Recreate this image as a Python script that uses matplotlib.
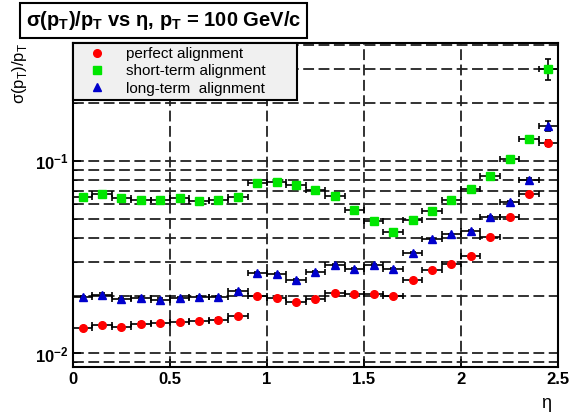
import matplotlib
matplotlib.use("Agg")
import matplotlib.pyplot as plt
from matplotlib.lines import Line2D
from matplotlib.ticker import LogLocator, NullFormatter, FixedLocator
import numpy as np

plt.rcParams['font.family'] = ['Liberation Sans', 'DejaVu Sans']

# eta bin centres (bin width 0.1)
eta = [0.05, 0.15, 0.25, 0.35, 0.45, 0.55, 0.65, 0.75, 0.85, 0.95,
       1.05, 1.15, 1.25, 1.35, 1.45, 1.55, 1.65, 1.75, 1.85, 1.95,
       2.05, 2.15, 2.25, 2.35, 2.45]
eta_err = [0.05] * len(eta)

perfect = [0.0136, 0.0140, 0.0137, 0.0143, 0.0144, 0.0146, 0.0147, 0.0150, 0.0156, 0.0200,
           0.0195, 0.0185, 0.0191, 0.0206, 0.0203, 0.0203, 0.0200, 0.0240, 0.0271, 0.0293,
           0.0320, 0.0403, 0.0509, 0.0670, 0.1236]
short_term = [0.0652, 0.0670, 0.0640, 0.0630, 0.0626, 0.0644, 0.0621, 0.0626, 0.0652, 0.0770,
              0.0780, 0.0748, 0.0706, 0.0660, 0.0556, 0.0489, 0.0428, 0.0493, 0.0551, 0.0626,
              0.0712, 0.0835, 0.1020, 0.1300, 0.3010]
long_term = [0.0196, 0.0202, 0.0191, 0.0193, 0.0190, 0.0193, 0.0196, 0.0196, 0.0210, 0.0262,
             0.0258, 0.0240, 0.0265, 0.0287, 0.0276, 0.0287, 0.0276, 0.0334, 0.0392, 0.0415,
             0.0433, 0.0513, 0.0609, 0.0796, 0.1520]

perfect_err = [0.0002] * 22 + [0.0008, 0.0012, 0.004]
short_err = [0.0006] * 22 + [0.0015, 0.003, 0.038]
long_err = [0.0003] * 22 + [0.001, 0.002, 0.009]

fig = plt.figure(figsize=(5.7, 4.12), dpi=100)
ax = fig.add_axes([0.128, 0.109, 0.851, 0.787])

series = [
    (perfect, perfect_err, 'o', '#ff0000'),
    (short_term, short_err, 's', '#00e600'),
    (long_term, long_err, '^', '#0000cc'),
]
for vals, errs, mk, col in series:
    ax.errorbar(eta, vals, xerr=eta_err, yerr=errs, fmt=mk, color=col,
                markersize=5.5, ecolor='black', elinewidth=1.2, capsize=2.2,
                capthick=1.2, zorder=3)

ax.set_yscale('log')
ax.set_xlim(0, 2.5)
ax.set_ylim(0.0085, 0.41)

ax.xaxis.set_major_locator(FixedLocator([0, 0.5, 1, 1.5, 2, 2.5]))
ax.set_xticklabels(['0', '0.5', '1', '1.5', '2', '2.5'])
ax.yaxis.set_major_locator(LogLocator(base=10))
ax.yaxis.set_minor_locator(LogLocator(base=10, subs=np.arange(2, 10)))
ax.yaxis.set_minor_formatter(NullFormatter())

ax.grid(True, which='both', axis='y', color='#222222', linestyle=(0, (6, 2.5)), linewidth=1.3)
ax.grid(True, which='major', axis='x', color='#222222', linestyle=(0, (6, 2.5)), linewidth=1.3)
ax.set_axisbelow(True)

ax.tick_params(axis='both', which='both', direction='in', labelsize=12)
ax.tick_params(axis='both', which='major', length=6, width=1.2)
ax.tick_params(axis='both', which='minor', length=3)
for lab in ax.get_xticklabels() + ax.get_yticklabels():
    lab.set_fontweight('bold')
for sp in ax.spines.values():
    sp.set_linewidth(1.5)

ax.set_xlabel('η', fontsize=13, loc='right')
ax.xaxis.set_label_coords(0.985, -0.085)
ax.set_ylabel(r'σ(p$_\mathregular{T}$)/p$_\mathregular{T}$', fontsize=12, loc='top')
ax.yaxis.set_label_coords(-0.09, 1.0)

handles = [
    Line2D([], [], marker='o', color='#ff0000', linestyle='none', markersize=5.5),
    Line2D([], [], marker='s', color='#00e600', linestyle='none', markersize=5.5),
    Line2D([], [], marker='^', color='#0000cc', linestyle='none', markersize=5.5),
]
labels = ['perfect alignment', 'short-term alignment', 'long-term  alignment']
leg = ax.legend(handles, labels, loc='upper left', bbox_to_anchor=(0, 1, 0.462, 0),
                mode='expand', fontsize=11, frameon=True, fancybox=False,
                borderaxespad=0, handlelength=2.6, handletextpad=0.6,
                labelspacing=0.2, borderpad=0.3)
leg.get_frame().set_facecolor('#f0f0f0')
leg.get_frame().set_edgecolor('black')
leg.get_frame().set_linewidth(1.5)
leg.get_frame().set_alpha(1)
leg.set_zorder(5)

fig.text(0.045, 0.951, r'σ(p$_\mathregular{T}$)/p$_\mathregular{T}$ vs η, p$_\mathregular{T}$ = 100 GeV/c',
         fontsize=14.5, fontweight='bold', va='center', ha='left',
         bbox=dict(boxstyle='square,pad=0.3', facecolor='white', edgecolor='black', linewidth=1.5))

fig.savefig('out.png', dpi=100)
